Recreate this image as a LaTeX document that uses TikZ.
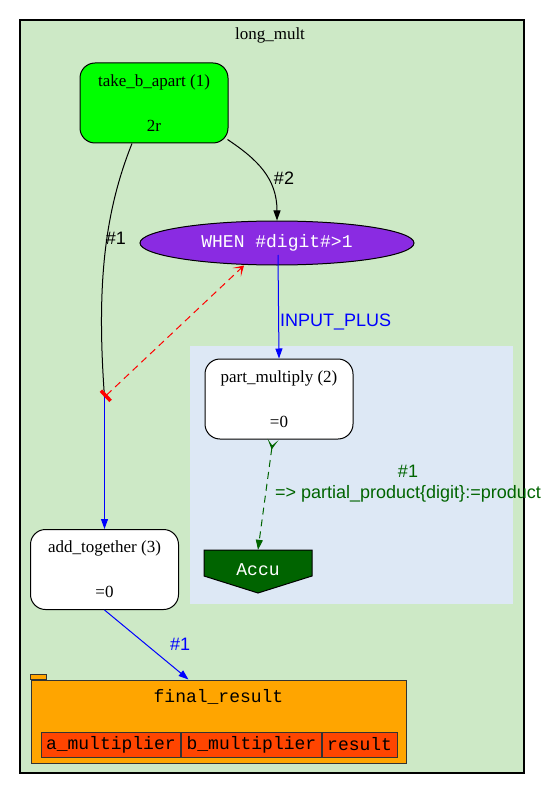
\documentclass[tikz,border=0pt]{standalone}
\usepackage{fontspec}
\setmainfont{Liberation Serif}
\setsansfont{Liberation Sans}
\setmonofont{Liberation Mono}
\usetikzlibrary{arrows.meta,positioning,calc,shapes.geometric}
\definecolor{multgreen}{HTML}{CDE9C6}
\definecolor{multblue}{HTML}{DDE8F5}
\definecolor{multlime}{HTML}{00FF00}
\definecolor{multviolet}{HTML}{8A2BE2}
\definecolor{multdark}{HTML}{006400}
\definecolor{multorange}{HTML}{FFA500}
\definecolor{multred}{HTML}{FF4500}
\newcommand{\serfont}{\fontsize{17}{20}\selectfont}
\newcommand{\edgefont}{\fontsize{18}{21}\selectfont\sffamily}
\newcommand{\monfont}{\fontsize{18}{21}\selectfont\ttfamily}

\begin{document}
\begin{tikzpicture}[
  x=1pt, y=-1pt,
  node distance=0pt,
  cluster/.style={rectangle, inner sep=0pt},
  block/.style={draw=black, line width=1pt, rounded corners=15pt, fill=white,
                minimum width=148pt, minimum height=80pt, align=center, font=\serfont},
  cond/.style={ellipse, draw=black, line width=1pt, fill=multviolet, text=white,
               minimum width=274pt, minimum height=44pt, font=\monfont},
  cell/.style={draw=black!80, line width=1pt, fill=multred, inner xsep=5pt, inner ysep=0pt,
               minimum height=25pt, font=\monfont},
  edge/.style={line width=1pt, -{Triangle[length=10pt,width=7pt]}},
  longdash/.style={dash pattern=on 7pt off 5pt},
  elabel/.style={font=\edgefont, inner sep=0pt}
]
\useasboundingbox (0,0) rectangle (555,794);

% clusters
\node[cluster, draw=black, line width=2pt, fill=multgreen, minimum width=504pt,
      minimum height=753pt] (longmult) at (272,396.5) {};
\node[font=\serfont, inner sep=0pt] (lmtitle) at ($(longmult.north)+(-2,16)$) {long\_mult};
\node[cluster, fill=multblue, minimum width=323pt, minimum height=258pt] (pmcluster) at (351.5,475) {};

% nodes
\node[block, fill=multlime] (take) at (154,103) {take\_b\_apart (1)\\[25pt]2r};
\node[cond] (when) at (277,243) {WHEN \#digit\#>1};
\node[block] (part) at (279,399) {part\_multiply (2)\\[25pt]=0};
\node[block] (add) at (104.5,569.5) {add\_together (3)\\[25pt]=0};
\coordinate (junc) at (104.5,397);

\coordinate (acc) at (258,563);
\filldraw[draw=black, line width=1pt, fill=multdark]
  ($(acc)+(-54,-13)$) -- ($(acc)+(54,-13)$) -- ($(acc)+(54,13)$)
  -- ($(acc)+(0,30)$) -- ($(acc)+(-54,13)$) -- cycle;
\node[font=\monfont, text=white, minimum width=108pt, minimum height=40pt] (accu) at (258,570) {Accu};

\node[draw=black!80, line width=1pt, fill=multorange, minimum width=375pt,
      minimum height=83pt] (final) at (218.5,721.5) {};
\filldraw[draw=black!80, line width=1pt, fill=multorange]
  (final.north west) rectangle ++(16,-5);
\node[font=\monfont, inner sep=0pt] (ftitle) at ($(final.north)+(0,17)$) {final\_result};
\node[cell, anchor=west] (cella) at ($(final.west)+(10,23)$) {a\_multiplier};
\node[cell, right=of cella] (cellb) {b\_multiplier};
\node[cell, right=of cellb] (cellc) {result};

% edges
\draw[edge] ([xshift=-1pt,yshift=4pt]take.south east)
  .. controls +(30,20) and +(0,-42) .. (when.north);
\node[elabel] (ltwo) at (284,178) {\#2};
\draw[line width=1pt] ([xshift=-22pt]take.south)
  .. controls +(-28,70) and +(-8,-110) .. (junc);
\node[elabel] (lone) at (116,238) {\#1};
\draw[edge, draw=blue, fill=blue] (junc) -- (add.north);
\draw[red, line width=1pt, longdash,
      {Bar[width=14pt,line width=3.5pt]}-{Stealth[length=10pt,width=12pt,inset=6pt]}]
  (junc) -- ([xshift=-33pt]when.south);
\draw[edge, blue] ([xshift=1pt,yshift=-12pt]when.center) -- (part.north)
  node[elabel, pos=0.65, anchor=west, xshift=1pt] (linput) {INPUT\_PLUS};
\draw[edge, multdark, longdash,
      {Stealth[reversed,length=10pt,width=11pt,inset=6pt]}-{Triangle[length=10pt,width=7pt]}]
  ([xshift=-6pt]part.south) -- (accu.north);
\node[elabel, text=multdark, align=center] (lpart) at (408,484)
  {\#1\\=> partial\_product\{digit\}:=product};
\draw[edge, blue] (add.south) -- ([xshift=-30pt]final.north)
  node[elabel, pos=0.5, anchor=west, xshift=23pt] (lfinal) {\#1};
\end{tikzpicture}
\end{document}
